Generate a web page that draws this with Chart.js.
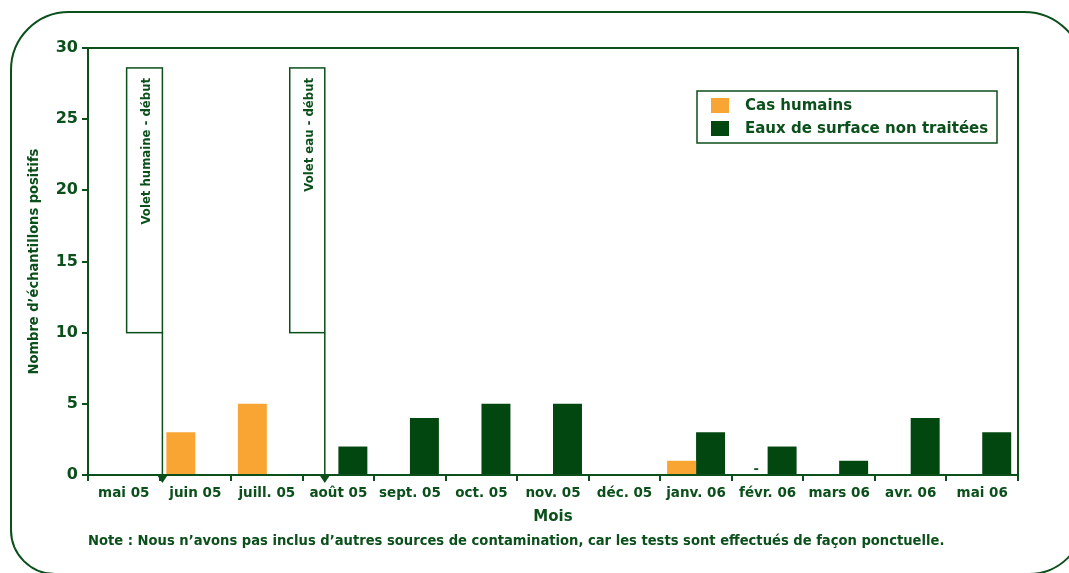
<!DOCTYPE html>
<html lang="fr">
<head>
    <meta charset="UTF-8">
    <title>Échantillons positifs par mois</title>
    <script src="https://cdn.jsdelivr.net/npm/chart.js"></script>
    <style>
        body {
            margin: 0;
            padding: 0;
            background-color: #fff;
            overflow: hidden;
        }
        canvas {
            display: block;
        }
    </style>
</head>
<body>
    <canvas id="graphique" width="1069" height="573"></canvas>

    <script>
        // Données
        const mois = ['mai 05', 'juin 05', 'juill. 05', 'août 05', 'sept. 05', 'oct. 05', 'nov. 05',
                      'déc. 05', 'janv. 06', 'févr. 06', 'mars 06', 'avr. 06', 'mai 06'];
        const casHumains = [0, 3, 5, 0, 0, 0, 0, 0, 1, 0, 0, 0, 0];
        const eauxSurface = [0, 0, 0, 2, 4, 5, 5, 0, 3, 2, 1, 4, 3];
        const marquesHumains = ['', '', '', '', '', '', '', '', '', '-', '', '', ''];

        // Encadrés "Volet ... - début" (en unités des axes)
        const voletTextes = ['Volet humaine - début', 'Volet eau - début'];
        const voletGauche = [0.04, 2.32];
        const voletDroite = [0.54, 2.81];
        const voletBas = 10;
        const voletHaut = 28.6;

        const note = "Note : Nous n\u2019avons pas inclus d\u2019autres sources de contamination, car les tests sont effectués de façon ponctuelle.";

        const vert = '#0b4f1b';
        const vertBarre = '#02470f';
        const orange = '#f8a533';
        const police = "'DejaVu Sans', sans-serif";
        const policeEtroite = "'DejaVu Sans Condensed', 'Liberation Sans Narrow', sans-serif";

        // Cadre arrondi, bordure de la zone, encadrés, légende et note
        const decor = {
            id: 'decor',
            beforeDraw(chart) {
                const c = chart.ctx;
                c.save();
                c.strokeStyle = vert;
                c.lineWidth = 2;
                c.beginPath();
                c.roundRect(11, 12, 1073, 562, [58, 60, 55, 44]);
                c.stroke();
                c.restore();
            },
            afterDraw(chart) {
                const c = chart.ctx;
                const a = chart.chartArea;
                const x = chart.scales.x;
                const y = chart.scales.y;
                c.save();

                // bordure haute et droite de la zone de tracé
                c.strokeStyle = vert;
                c.lineWidth = 2;
                c.beginPath();
                c.moveTo(a.left, a.top);
                c.lineTo(a.right, a.top);
                c.lineTo(a.right, a.bottom);
                c.stroke();

                // encadrés avec flèche
                voletTextes.forEach((t, i) => {
                    const g = x.getPixelForValue(voletGauche[i]);
                    const d = x.getPixelForValue(voletDroite[i]);
                    const h = y.getPixelForValue(voletHaut);
                    const b = y.getPixelForValue(voletBas);
                    c.fillStyle = '#fff';
                    c.fillRect(g, h, d - g, b - h);
                    c.lineWidth = 1.5;
                    c.strokeStyle = vert;
                    c.strokeRect(g, h, d - g, b - h);
                    c.beginPath();
                    c.moveTo(d, b);
                    c.lineTo(d, a.bottom);
                    c.stroke();
                    c.fillStyle = vert;
                    c.beginPath();
                    c.moveTo(d - 6, a.bottom - 1);
                    c.lineTo(d + 6, a.bottom - 1);
                    c.lineTo(d, a.bottom + 8);
                    c.closePath();
                    c.fill();

                    c.save();
                    c.translate((g + d) / 2 + 2, h + 10);
                    c.rotate(-Math.PI / 2);
                    c.font = 'bold 13px ' + policeEtroite;
                    c.textAlign = 'right';
                    c.textBaseline = 'middle';
                    c.fillText(t, 0, 0);
                    c.restore();
                });

                // petit tiret (févr. 06)
                const meta = chart.getDatasetMeta(0);
                c.fillStyle = vert;
                c.font = 'bold 13px ' + police;
                c.textAlign = 'center';
                c.textBaseline = 'bottom';
                marquesHumains.forEach((m, i) => {
                    if (m) c.fillText(m, meta.data[i].x + 3, a.bottom + 1);
                });

                // légende
                const lx = 697, ly = 91, lw = 300, lh = 52;
                c.lineWidth = 1.5;
                c.strokeStyle = vert;
                c.strokeRect(lx, ly, lw, lh);
                c.font = 'bold 15px ' + police;
                c.textAlign = 'left';
                c.textBaseline = 'middle';
                chart.data.datasets.forEach((ds, i) => {
                    const cy = ly + 14 + i * 23;
                    c.fillStyle = ds.backgroundColor;
                    c.fillRect(lx + 14, cy - 7, 18, 15);
                    c.fillStyle = vert;
                    c.fillText(ds.label, lx + 48, cy + 1);
                });

                // note
                c.font = 'bold 14.6px ' + policeEtroite;
                c.textAlign = 'left';
                c.textBaseline = 'middle';
                c.fillStyle = vert;
                c.fillText(note, a.left, 541);

                c.restore();
            }
        };

        const ctx = document.getElementById('graphique').getContext('2d');
        const chart = new Chart(ctx, {
            type: 'bar',
            data: {
                labels: mois,
                datasets: [{
                    label: 'Cas humains',
                    data: casHumains,
                    backgroundColor: orange
                }, {
                    label: 'Eaux de surface non traitées',
                    data: eauxSurface,
                    backgroundColor: vertBarre
                }]
            },
            options: {
                responsive: false,
                animation: false,
                layout: { padding: { left: 0, right: 51, top: 48, bottom: 0 } },
                categoryPercentage: 0.81,
                barPercentage: 1.0,
                plugins: {
                    legend: { display: false },
                    tooltip: { enabled: false }
                },
                scales: {
                    x: {
                        afterFit(s) { s.height = 98; },
                        grid: { drawOnChartArea: false, offset: true, tickLength: 6, color: vert, lineWidth: 2 },
                        border: { color: vert, width: 2 },
                        ticks: { color: vert, padding: 4, font: { family: police, size: 13.5, weight: 'bold' } },
                        title: {
                            display: true,
                            text: 'Mois',
                            color: vert,
                            padding: { bottom: 47 },
                            font: { family: police, size: 15, weight: 'bold' }
                        }
                    },
                    y: {
                        min: 0,
                        max: 30,
                        afterFit(s) { s.width = 88; },
                        grid: { drawOnChartArea: false, tickLength: 6, color: vert, lineWidth: 2 },
                        border: { color: vert, width: 2 },
                        ticks: { stepSize: 5, color: vert, padding: 4, font: { family: police, size: 16, weight: 'bold' } },
                        title: {
                            display: true,
                            text: 'Nombre d\u2019échantillons positifs',
                            color: vert,
                            padding: { top: 26 },
                            font: { family: policeEtroite, size: 14.5, weight: 'bold' }
                        }
                    }
                }
            },
            plugins: [decor]
        });
    </script>
</body>
</html>
